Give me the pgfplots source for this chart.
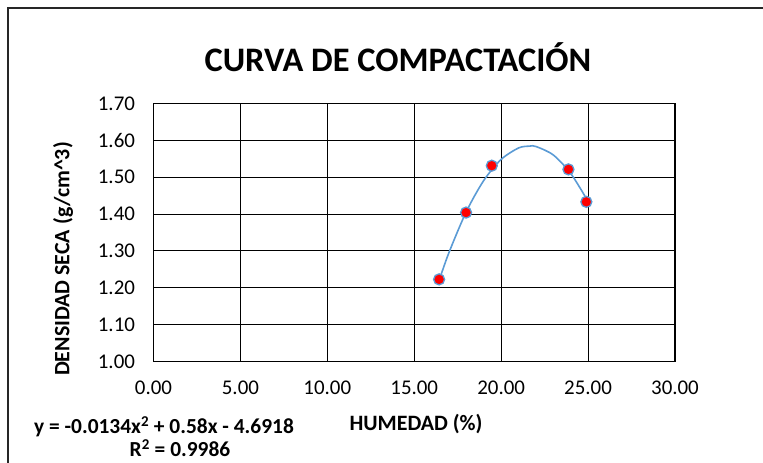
\documentclass[border=0pt]{standalone}
\usepackage{pgfplots}
\pgfplotsset{compat=1.18}
\usepackage{fontspec}
\setmainfont{Carlito}
\definecolor{trend}{RGB}{91,155,213}
\begin{document}
\begin{tikzpicture}
\useasboundingbox (0bp,0bp) rectangle (763bp,463bp);
\draw[line width=1.3bp, black!85] (8bp,0bp) -- (8bp,455bp) -- (763bp,455bp);
\begin{axis}[
  at={(153.5bp,101.3bp)}, anchor=south west,
  scale only axis, width=521.5bp, height=258.4bp,
  xmin=0, xmax=30, ymin=1.0, ymax=1.7,
  xtick={0,5,...,30}, ytick={1.0,1.1,...,1.71},
  grid=major, major grid style={black, line width=1bp},
  axis line style={black, line width=1.2bp},
  tick style={draw=none},
  /pgf/number format/assume math mode=true,
  xticklabel style={/pgf/number format/.cd, fixed, fixed zerofill, precision=2},
  yticklabel style={/pgf/number format/.cd, fixed, fixed zerofill, precision=2},
  ticklabel style={font=\fontsize{21}{24}\selectfont},
  xticklabel shift=16bp, yticklabel shift=15bp,
  clip=false,
]
\addplot[trend, line width=1.6bp, smooth, tension=0.5] coordinates {
  (16.43,1.220) (17,1.296) (18,1.407) (19,1.491) (20,1.548) (21,1.579)
  (21.64,1.584) (22,1.583) (23,1.560) (24,1.510) (24.9,1.442)
};
\addplot[only marks, mark=*, mark size=5.5bp, mark options={fill=red, draw=trend, line width=1.3bp}] coordinates {
  (16.43,1.223) (17.98,1.404) (19.46,1.531) (23.87,1.521) (24.90,1.433)
};
\end{axis}
\node[font=\fontsize{34.5}{38}\selectfont\bfseries] at (398bp,406bp) {CURVA DE COMPACTACIÓN};
\node[font=\fontsize{22}{24}\selectfont\bfseries, rotate=90] at (63bp,204bp) {DENSIDAD SECA (g/cm\^{}3)};
\node[font=\fontsize{22}{24}\selectfont\bfseries] at (416bp,39bp) {HUMEDAD (\%)};
\node[font=\fontsize{21.5}{24}\selectfont\bfseries] at (164bp,36bp) {y = -0.0134x\textsuperscript{2} + 0.58x - 4.6918};
\node[font=\fontsize{21.5}{24}\selectfont\bfseries] at (180bp,15bp) {R\textsuperscript{2} = 0.9986};
\end{tikzpicture}
\end{document}
